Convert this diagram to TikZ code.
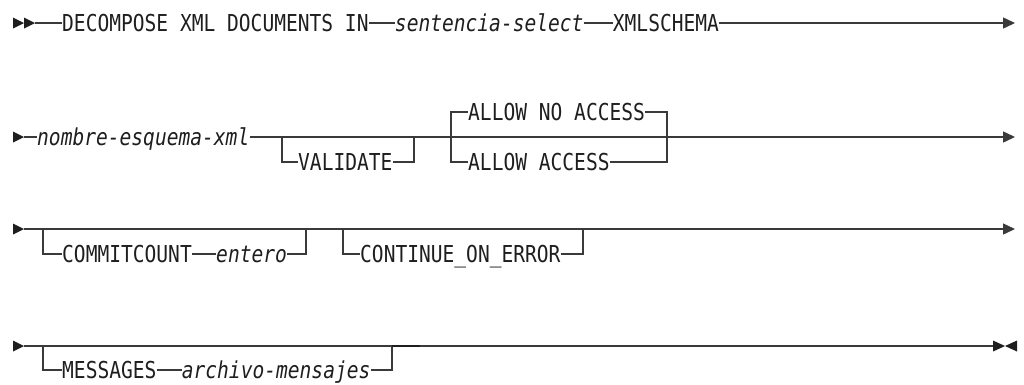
\documentclass[tikz,border=0pt]{standalone}
\usepackage{fontspec}
\usepackage{tikz}
\usetikzlibrary{positioning,arrows.meta}
\newfontfamily\railfont[FakeStretch=0.84]{DejaVu Sans Mono}
\newcommand{\railsize}{\fontsize{23.3}{28}\selectfont}
\definecolor{ink}{HTML}{1E1E1E}
\definecolor{wire}{HTML}{3A3A3A}

\begin{document}
\begin{tikzpicture}[
  x=1pt, y=-1pt,
  kw/.style={inner sep=0pt, text height=17pt, text depth=0pt, text=ink, font=\railfont\railsize},
  var/.style={kw, font=\railfont\railsize\itshape},
  rail/.style={draw=wire, line width=1.4pt},
  goon/.style={rail, -{Triangle[length=12pt, width=11pt]}},
  tip/.style={fill=ink},
]
\useasboundingbox (0,0) rectangle (1024,384);

% row 1
\coordinate (r1a) at (13,23);
\coordinate (r1b) at (24,23);
\coordinate (r1s) at (35,23);
\coordinate (r1e) at (1015,23);
\node[kw, anchor=west] (decomp) at (62,23) {DECOMPOSE XML DOCUMENTS IN};
\node[var, right=26pt of decomp] (selstmt) {sentencia-select};
\node[kw, right=29pt of selstmt] (schema) {XMLSCHEMA};
\fill[tip] (r1a) ++(0,-5.5) -- ++(11,5.5) -- ++(-11,5.5) -- cycle;
\fill[tip] (r1b) ++(0,-5.5) -- ++(11,5.5) -- ++(-11,5.5) -- cycle;
\draw[rail] (r1s) -- (decomp);
\draw[rail] (decomp) -- (selstmt);
\draw[rail] (selstmt) -- (schema);
\draw[goon] (schema) -- (r1e);

% row 2
\coordinate (r2a) at (13,137);
\coordinate (r2s) at (24,137);
\coordinate (r2e) at (1015,137);
\coordinate (v1) at (282,137);
\coordinate (v2) at (414,137);
\coordinate (a1) at (451,137);
\coordinate (a2) at (667,137);
\node[var, anchor=west] (schname) at (37,137) {nombre-esquema-xml};
\node[kw, anchor=west] (validate) at (298,162) {VALIDATE};
\node[kw, anchor=west] (noacc) at (468,112) {ALLOW NO ACCESS};
\node[kw, anchor=west] (acc) at (468,162) {ALLOW ACCESS};
\fill[tip] (r2a) ++(0,-5.5) -- ++(11,5.5) -- ++(-11,5.5) -- cycle;
\draw[rail] (r2s) -- (schname);
\draw[goon] (schname) -- (r2e);
\draw[rail] (v1) |- (validate);
\draw[rail] (validate) -| (v2);
\draw[rail] (a1) |- (noacc);
\draw[rail] (noacc) -| (a2);
\draw[rail] (a1) |- (acc);
\draw[rail] (acc) -| (a2);

% row 3
\coordinate (r3a) at (13,229);
\coordinate (r3s) at (24,229);
\coordinate (r3e) at (1015,229);
\coordinate (c1) at (43,229);
\coordinate (c2) at (306,229);
\coordinate (e1) at (343,229);
\coordinate (e2) at (583,229);
\node[kw, anchor=west] (commit) at (62,254) {COMMITCOUNT};
\node[var, right=24pt of commit] (entero) {entero};
\node[kw, anchor=west] (cont) at (360,254) {CONTINUE\_ON\_ERROR};
\fill[tip] (r3a) ++(0,-5.5) -- ++(11,5.5) -- ++(-11,5.5) -- cycle;
\draw[goon] (r3s) -- (r3e);
\draw[rail] (c1) |- (commit);
\draw[rail] (commit) -- (entero);
\draw[rail] (entero) -| (c2);
\draw[rail] (e1) |- (cont);
\draw[rail] (cont) -| (e2);

% row 4
\coordinate (r4a) at (13,346);
\coordinate (r4s) at (24,346);
\coordinate (r4e) at (993,346);
\coordinate (m1) at (43,346);
\coordinate (m2) at (392,346);
\node[kw, anchor=west] (msgs) at (62,370) {MESSAGES};
\node[var, right=25pt of msgs] (msgfile) {archivo-mensajes};
\fill[tip] (r4a) ++(0,-5.5) -- ++(11,5.5) -- ++(-11,5.5) -- cycle;
\draw[rail] (r4s) -- (r4e);
\draw[rail] (m1) |- (msgs);
\draw[rail] (msgs) -- (msgfile);
\draw[rail] (msgfile) -| (m2);
\draw[draw=ink, line width=2.6pt] (m2) -- ++(28,0);
\fill[tip] (r4e) ++(0,-5.5) -- ++(12,5.5) -- ++(-12,5.5) -- cycle;
\fill[tip] (r4e) ++(24,-5.5) -- ++(-12,5.5) -- ++(12,5.5) -- cycle;
\end{tikzpicture}
\end{document}
